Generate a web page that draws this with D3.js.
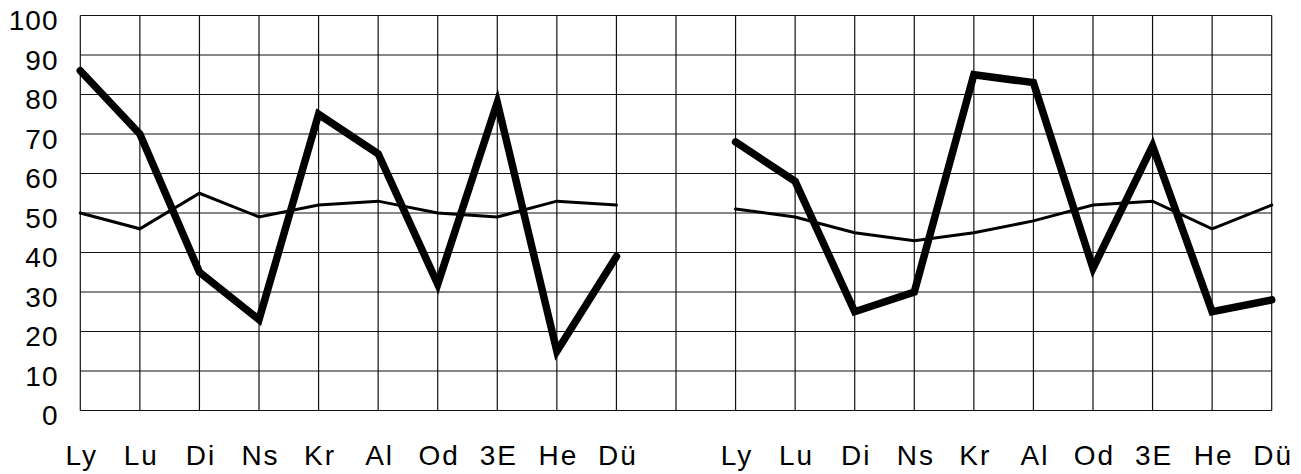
<!DOCTYPE html>
<html>
<head>
<meta charset="utf-8">
<script src="https://cdn.jsdelivr.net/npm/d3@7"></script>
<style>
  html, body { margin: 0; padding: 0; background: #fff; }
  svg text { font-family: "Liberation Sans", Arial, sans-serif; fill: #000; }
</style>
</head>
<body>
<script>
var width = 1301;
var height = 474;

// categories, repeated for both panels
var categories = ["Ly", "Lu", "Di", "Ns", "Kr", "Al", "Od", "3E", "He", "Dü"];
var yTicks = [0, 10, 20, 30, 40, 50, 60, 70, 80, 90, 100];

// left panel
var leftThick = [86, 70, 35, 23, 75, 65, 32, 78, 15, 39];
var leftThin = [50, 46, 55, 49, 52, 53, 50, 49, 53, 52];

// right panel
var rightThick = [68, 58, 25, 30, 85, 83, 36, 67, 25, 28];
var rightThin = [51, 49, 45, 43, 45, 48, 52, 53, 46, 52];

var x = d3.scaleLinear().domain([0, 20]).range([80.3, 1271.7]);
var y = d3.scaleLinear().domain([0, 100]).range([410.5, 15.5]);

var svg = d3
  .select("body")
  .append("svg")
  .attr("width", width)
  .attr("height", height);

var grid = svg.append("g").attr("class", "grid");

// horizontal lines
grid
  .selectAll(".h")
  .data(yTicks)
  .enter()
  .append("line")
  .attr("x1", x(0))
  .attr("x2", x(20))
  .attr("y1", function(d) { return y(d); })
  .attr("y2", function(d) { return y(d); })
  .attr("stroke", "#111")
  .attr("stroke-width", 1.2);

// vertical lines, every slot including the gap between panels
grid
  .selectAll(".v")
  .data(d3.range(21))
  .enter()
  .append("line")
  .attr("x1", function(d) { return x(d); })
  .attr("x2", function(d) { return x(d); })
  .attr("y1", y(100))
  .attr("y2", y(0))
  .attr("stroke", "#111")
  .attr("stroke-width", 1.2);

// y labels
svg
  .selectAll(".ylab")
  .data(yTicks)
  .enter()
  .append("text")
  .attr("x", 58.5)
  .attr("y", function(d) { return y(d) + 14.5; })
  .attr("text-anchor", "end")
  .style("font-size", "28px")
  .style("letter-spacing", "1px")
  .text(function(d) { return d; });

// x labels for both panels
var slots = categories.map(function(c, i) { return { name: c, i: i }; })
  .concat(categories.map(function(c, i) { return { name: c, i: i + 11 }; }));

svg
  .selectAll(".xlab")
  .data(slots)
  .enter()
  .append("text")
  .attr("x", function(d) { return x(d.i) + 1.5; })
  .attr("y", 465)
  .attr("text-anchor", "middle")
  .style("font-size", "28px")
  .style("letter-spacing", "2px")
  .text(function(d) { return d.name; });

var line = d3
  .line()
  .x(function(d) { return x(d.i); })
  .y(function(d) { return y(d.v); });

function series(values, offset) {
  return values.map(function(v, i) { return { i: i + offset, v: v }; });
}

var lines = [
  { data: series(leftThin, 0), w: 3 },
  { data: series(rightThin, 11), w: 3 },
  { data: series(leftThick, 0), w: 7.5 },
  { data: series(rightThick, 11), w: 7.5 }
];

svg
  .selectAll(".series")
  .data(lines)
  .enter()
  .append("path")
  .attr("d", function(d) { return line(d.data); })
  .attr("fill", "none")
  .attr("stroke", "#000")
  .attr("stroke-width", function(d) { return d.w; })
  .attr("stroke-linejoin", "miter")
  .attr("stroke-linecap", "round");
</script>
</body>
</html>
